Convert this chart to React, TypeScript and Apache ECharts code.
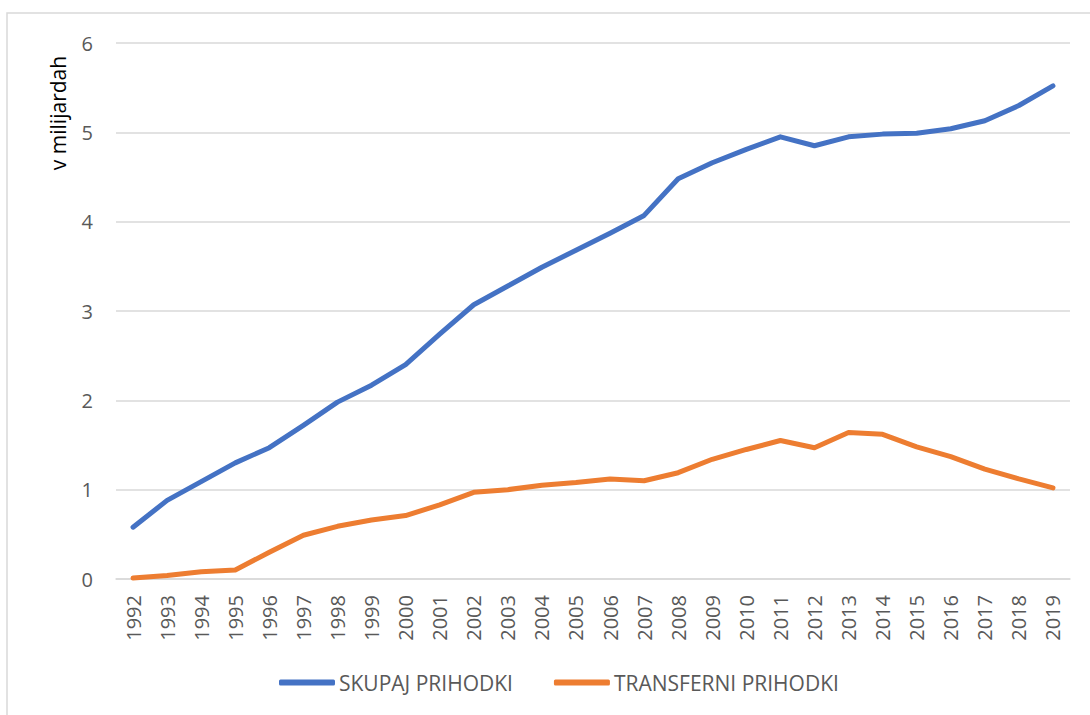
import React, { useEffect, useRef } from "react";
import * as echarts from "echarts";

const years = [
  "1992", "1993", "1994", "1995", "1996", "1997", "1998", "1999", "2000", "2001",
  "2002", "2003", "2004", "2005", "2006", "2007", "2008", "2009", "2010", "2011",
  "2012", "2013", "2014", "2015", "2016", "2017", "2018", "2019",
];

const skupajPrihodki = [
  0.58, 0.88, 1.09, 1.3, 1.47, 1.72, 1.98, 2.17, 2.4, 2.74,
  3.07, 3.28, 3.49, 3.68, 3.87, 4.07, 4.48, 4.66, 4.81, 4.95,
  4.85, 4.95, 4.98, 4.99, 5.04, 5.13, 5.3, 5.52,
];

const transferniPrihodki = [
  0.01, 0.04, 0.08, 0.1, 0.3, 0.49, 0.59, 0.66, 0.71, 0.83,
  0.97, 1.0, 1.05, 1.08, 1.12, 1.1, 1.19, 1.34, 1.45, 1.55,
  1.47, 1.64, 1.62, 1.48, 1.37, 1.23, 1.12, 1.02,
];

const seriesNames = ["SKUPAJ PRIHODKI", "TRANSFERNI PRIHODKI"];
const axisTitle = "v milijardah";

const FONT = "'Open Sans', sans-serif";

export default function App() {
  const ref = useRef<HTMLDivElement>(null);

  useEffect(() => {
    if (!ref.current) return;
    const chart = echarts.init(ref.current, undefined, { renderer: "svg" });
    chart.setOption({
      animation: false,
      backgroundColor: "#ffffff",
      textStyle: { fontFamily: FONT },
      grid: { left: 116, right: 20, top: 43, bottom: 136, containLabel: false },
      graphic: [
        {
          type: "rect",
          shape: { x: 7, y: 13, width: 1100, height: 720 },
          style: { fill: "none", stroke: "#d9d9d9", lineWidth: 1.5 },
          silent: true,
        },
        {
          type: "text",
          x: 58,
          y: 113,
          rotation: Math.PI / 2,
          style: {
            text: axisTitle,
            fill: "#000000",
            font: `21px ${FONT}`,
            textAlign: "center",
            textVerticalAlign: "middle",
          },
        },
      ],
      legend: {
        data: seriesNames,
        left: 279,
        top: 672,
        padding: 0,
        itemWidth: 56,
        itemHeight: 6,
        itemGap: 41,
        icon: "roundRect",
        textStyle: { fontSize: 21, color: "#595959", fontFamily: FONT, padding: [0, 0, 0, -1] },
      },
      xAxis: {
        type: "category",
        data: years,
        boundaryGap: true,
        axisLine: { show: true, lineStyle: { color: "#d9d9d9", width: 1.5 } },
        axisTick: { show: false },
        axisLabel: {
          rotate: 90,
          fontSize: 20,
          color: "#595959",
          margin: 16,
          interval: 0,
          fontFamily: FONT,
        },
      },
      yAxis: {
        type: "value",
        min: 0,
        max: 6,
        interval: 1,
        axisLine: { show: false },
        axisTick: { show: false },
        axisLabel: { fontSize: 20, color: "#595959", margin: 23, fontFamily: FONT },
        splitLine: { lineStyle: { color: "#d9d9d9", width: 1.5 } },
      },
      series: [
        {
          name: seriesNames[0],
          type: "line",
          data: skupajPrihodki,
          symbol: "none",
          color: "#4472C4",
          lineStyle: { width: 5, color: "#4472C4", cap: "round", join: "round" },
        },
        {
          name: seriesNames[1],
          type: "line",
          data: transferniPrihodki,
          symbol: "none",
          color: "#ED7D31",
          lineStyle: { width: 5, color: "#ED7D31", cap: "round", join: "round" },
        },
      ],
    });
    return () => chart.dispose();
  }, []);

  return (
    <div
      ref={ref}
      style={{ position: "fixed", left: 0, top: 0, width: 1090, height: 715 }}
    />
  );
}
